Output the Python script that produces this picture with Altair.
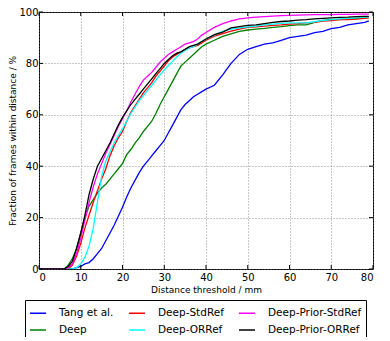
import altair as alt
import pandas as pd

X = [0, 6, 7, 8, 9, 10, 11, 12, 13, 14, 15, 16, 17, 18, 19, 20, 21, 22, 23, 24, 25,
     26, 27, 28, 29, 30, 31, 32, 33, 34, 35, 36, 37, 38, 39, 40, 42, 44, 46, 48, 50,
     52, 54, 56, 58, 60, 62, 64, 66, 68, 70, 72, 74, 76, 78, 79]

tang = [0, 0, 0, 0, 0.5, 1, 2, 2.5, 4, 6, 8, 11, 14, 17, 20.5, 24, 28, 31.5, 34.5, 37.5, 40,
        42, 44, 46, 48, 50, 53, 56, 59, 62, 64, 65.5, 67, 68, 69, 70, 71.5, 75.5, 80, 83.5, 85.5,
        86.5, 87.5, 88, 89, 90, 90.5, 91, 92, 92.5, 93.5, 94, 95, 95.5, 96, 96.5]
deep = [0, 0, 1.5, 4, 8, 14, 20, 24.5, 27, 29.5, 31.5, 33, 35, 37, 39, 41, 44.5, 46.5, 49, 51, 53.5,
        55.5, 57.5, 60.5, 64, 67, 70, 73, 76, 79, 80.5, 82, 83.5, 85, 86.5, 87.5, 89, 90.5, 91.5, 92.5, 93,
        93.3, 93.6, 94, 94.3, 94.7, 95, 95, 96, 96.7, 97, 97, 97.2, 97.5, 97.7, 97.8]
deep_std = [0, 0, 0, 1.5, 5, 10, 16, 21, 26, 30.5, 35, 39, 44, 48, 51, 53.5, 57.5, 61, 63.5, 66, 68.5,
            70.5, 72.5, 75, 77, 79, 81, 82.5, 83.5, 84.5, 85.5, 86, 86.5, 87, 88, 89, 90.6, 91.6, 92.6, 93.3, 94,
            94.2, 94.5, 94.8, 95, 95.3, 95.5, 95.8, 96, 96.5, 96.7, 97, 97, 97.2, 97.5, 97.7]
deep_or = [0, 0, 0, 0, 0.5, 2, 4.5, 9, 16, 26, 36, 42, 45.5, 49, 52, 54.5, 57.5, 60.5, 63, 65.5, 67.5,
           69.5, 71.5, 73.5, 75.5, 77.5, 79.2, 80.8, 82.5, 84, 85, 86, 86.5, 87.5, 88.5, 89.5, 91, 92.5, 93.3, 93.8, 94.2,
           94.5, 95, 95.3, 95.6, 95.8, 95.8, 95.8, 96.2, 96.7, 97, 97.3, 97.5, 97.7, 98, 98]
prior_std = [0, 0, 0.5, 2, 6, 12, 19, 26, 32, 37, 41, 45, 48.5, 52, 55.5, 58.5, 61.5, 65, 68, 71, 73.5,
             75, 76.5, 78.5, 80.5, 82, 83.5, 84.5, 85.5, 86.5, 87.5, 88, 88.5, 89.5, 91, 92, 94, 95.5, 96.5, 97.3, 97.7,
             98, 98.2, 98.4, 98.6, 98.7, 98.8, 98.9, 99, 99, 99, 99.1, 99.1, 99.2, 99.2, 99.2]
prior_or = [0, 0, 1, 3, 8, 14, 21, 29, 35, 40, 43, 46, 49, 52.5, 56, 59, 61.5, 64, 66, 68, 70,
            72, 74, 76, 78, 80, 81.5, 83, 84, 84.5, 85.5, 86.5, 87, 87.5, 88.5, 89.5, 91.2, 92.2, 93.8, 94.3, 94.8,
            95, 95.5, 96, 96.3, 96.5, 96.8, 97, 97.3, 97.5, 97.7, 97.9, 98, 98.2, 98.3, 98.3]

series_names = ["Tang et al.", "Deep", "Deep-StdRef", "Deep-ORRef", "Deep-Prior-StdRef", "Deep-Prior-ORRef"]
series_vals = [tang, deep, deep_std, deep_or, prior_std, prior_or]
legend_order = ["Tang et al.", "Deep-StdRef", "Deep-Prior-StdRef", "Deep", "Deep-ORRef", "Deep-Prior-ORRef"]
legend_colors = ["#0000ff", "#ff0000", "#ff00ff", "#008000", "#00ffff", "#000000"]

X_TICKS = [0, 10, 20, 30, 40, 50, 60, 70, 80]
Y_TICKS = [0, 20, 40, 60, 80, 100]

rows = []
for order, (name, vals) in enumerate(zip(series_names, series_vals)):
    for x, y in zip(X, vals):
        rows.append({"d": x, "f": y, "method": name, "ord": order})
df = pd.DataFrame(rows)

W, H = 334, 257
xscale = alt.Scale(domain=[0, 80], nice=False, zero=False)
yscale = alt.Scale(domain=[0, 100], nice=False, zero=False)

lines = alt.Chart(df).mark_line(strokeWidth=1.3, clip=True).encode(
    x=alt.X("d:Q", scale=xscale, title="Distance threshold / mm",
            axis=alt.Axis(values=X_TICKS, tickSize=0, labelPadding=3, labelFontSize=10,
                          titleFontSize=9, titlePadding=3, grid=True, domain=False)),
    y=alt.Y("f:Q", scale=yscale, title="Fraction of frames within distance / %",
            axis=alt.Axis(values=Y_TICKS, tickSize=0, labelPadding=1, labelFontSize=10,
                          titleFontSize=9, titlePadding=1, grid=True, domain=False)),
    color=alt.Color("method:N",
                    scale=alt.Scale(domain=legend_order, range=legend_colors),
                    legend=alt.Legend(orient="none", legendX=-14, legendY=288, columns=3,
                                      direction="horizontal", title=None, gridAlign="each",
                                      strokeColor="black", fillColor="white", padding=4,
                                      symbolType="stroke", symbolSize=256, symbolStrokeWidth=1.5,
                                      labelFontSize=10.5, labelOffset=12, columnPadding=12,
                                      rowPadding=2, labelColor="black")),
    order=alt.Order("ord:Q"),
)

xt = pd.DataFrame({"t": X_TICKS})
yt = pd.DataFrame({"t": Y_TICKS})
tick_style = dict(color="black", strokeWidth=1)
xb = alt.Chart(xt).mark_rule(**tick_style).encode(x=alt.X("t:Q", scale=xscale), y=alt.value(H), y2=alt.value(H - 4))
xtop = alt.Chart(xt).mark_rule(**tick_style).encode(x=alt.X("t:Q", scale=xscale), y=alt.value(0), y2=alt.value(4))
yl = alt.Chart(yt).mark_rule(**tick_style).encode(y=alt.Y("t:Q", scale=yscale), x=alt.value(0), x2=alt.value(4))
yr = alt.Chart(yt).mark_rule(**tick_style).encode(y=alt.Y("t:Q", scale=yscale), x=alt.value(W), x2=alt.value(W - 4))

chart = alt.layer(lines, xb, xtop, yl, yr).properties(
    width=W, height=H,
    autosize=alt.AutoSizeParams(type="none"),
    padding={"left": 31, "top": 4, "right": 8, "bottom": 68},
).configure(font="DejaVu Sans").configure_view(
    stroke="black", strokeWidth=1
).configure_axis(
    gridColor="#777777", gridDash=[1, 2], gridWidth=0.8, labelColor="black", titleColor="black",
    titleFontWeight="normal"
)

chart.save("out.html", embed_options={"renderer": "svg", "actions": False})
